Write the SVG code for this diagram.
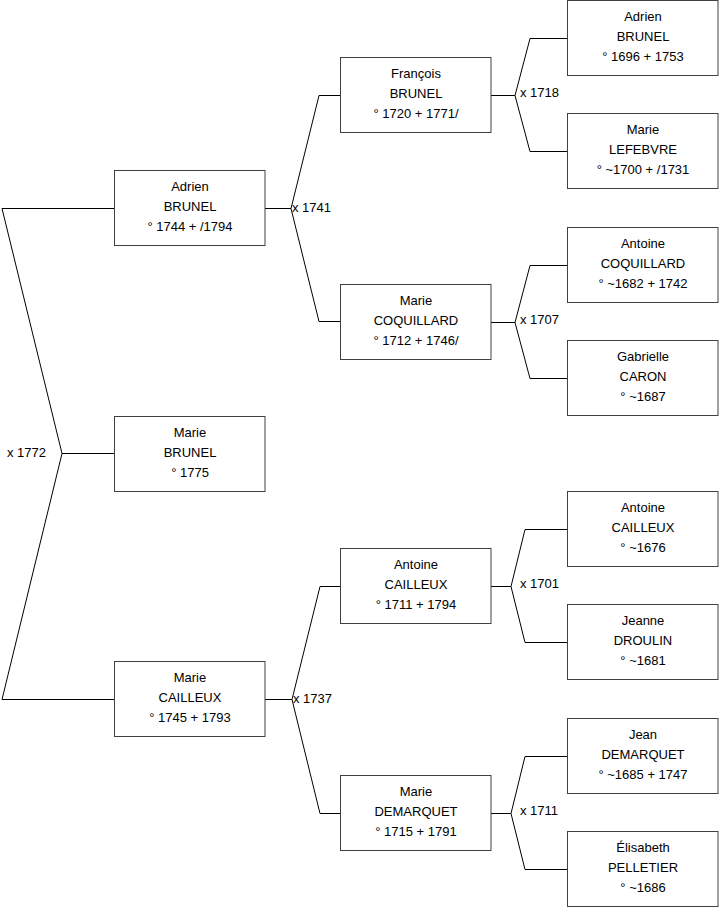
<svg xmlns="http://www.w3.org/2000/svg" width="719" height="908" viewBox="0 0 719 908">
<style>
.box{fill:#fff;stroke:#404040;stroke-width:1}
.c{fill:none;stroke:#000;stroke-width:1}
text{font-family:"Liberation Sans",Arial,sans-serif;font-size:13px;fill:#000}
.n text{text-anchor:middle}
</style>
<rect width="719" height="908" fill="#fff"/>
<g id="connectors">
<path class="c" d="M2,208.5H114.5M2,208.5L62,453.5L2,699.5M62,453.5H114.5M2,699.5H114.5"/>
<path class="c" d="M265,208.5H291M319,95.5L291,208.5L319,321.5M319,95.5H340.5M319,321.5H340.5"/>
<path class="c" d="M265,699.5H292M320,586.5L292,699.5L320,813.5M320,586.5H340.5M320,813.5H340.5"/>
<path class="c" d="M491,95.5H515M530,38.5L515,95.5L530,151.5M530,38.5H567.5M530,151.5H567.5"/>
<path class="c" d="M491,322.5H515M530,265.5L515,322.5L530,378.5M530,265.5H567.5M530,378.5H567.5"/>
<path class="c" d="M491,586.5H511M525,529.5L511,586.5L525,642.5M525,529.5H567.5M525,642.5H567.5"/>
<path class="c" d="M491,813.5H511M525,756.5L511,813.5L525,869.5M525,756.5H567.5M525,869.5H567.5"/>
<text x="7" y="457">x 1772</text>
<text x="292" y="212">x 1741</text>
<text x="293" y="703">x 1737</text>
<text x="520" y="97">x 1718</text>
<text x="520" y="324">x 1707</text>
<text x="520" y="588">x 1701</text>
<text x="520" y="815">x 1711</text>
</g>
<g id="n1" class="n"><rect class="box" x="114.5" y="170.5" width="150.5" height="75"/><text x="190" y="191">Adrien</text><text x="190" y="211">BRUNEL</text><text x="190" y="231">° 1744 + /1794</text></g>
<g id="n2" class="n"><rect class="box" x="114.5" y="416.5" width="150.5" height="75"/><text x="190" y="437">Marie</text><text x="190" y="457">BRUNEL</text><text x="190" y="477">° 1775</text></g>
<g id="n3" class="n"><rect class="box" x="114.5" y="661.5" width="150.5" height="75"/><text x="190" y="682">Marie</text><text x="190" y="702">CAILLEUX</text><text x="190" y="722">° 1745 + 1793</text></g>
<g id="n4" class="n"><rect class="box" x="340.5" y="57.5" width="150.5" height="75"/><text x="416" y="78">François</text><text x="416" y="98">BRUNEL</text><text x="416" y="118">° 1720 + 1771/</text></g>
<g id="n5" class="n"><rect class="box" x="340.5" y="284.5" width="150.5" height="75"/><text x="416" y="305">Marie</text><text x="416" y="325">COQUILLARD</text><text x="416" y="345">° 1712 + 1746/</text></g>
<g id="n6" class="n"><rect class="box" x="340.5" y="548.5" width="150.5" height="75"/><text x="416" y="569">Antoine</text><text x="416" y="589">CAILLEUX</text><text x="416" y="609">° 1711 + 1794</text></g>
<g id="n7" class="n"><rect class="box" x="340.5" y="775.5" width="150.5" height="75"/><text x="416" y="796">Marie</text><text x="416" y="816">DEMARQUET</text><text x="416" y="836">° 1715 + 1791</text></g>
<g id="n8" class="n"><rect class="box" x="567.5" y="0.5" width="150.5" height="75"/><text x="643" y="21">Adrien</text><text x="643" y="41">BRUNEL</text><text x="643" y="61">° 1696 + 1753</text></g>
<g id="n9" class="n"><rect class="box" x="567.5" y="113.5" width="150.5" height="75"/><text x="643" y="134">Marie</text><text x="643" y="154">LEFEBVRE</text><text x="643" y="174">° ~1700 + /1731</text></g>
<g id="n10" class="n"><rect class="box" x="567.5" y="227.5" width="150.5" height="75"/><text x="643" y="248">Antoine</text><text x="643" y="268">COQUILLARD</text><text x="643" y="288">° ~1682 + 1742</text></g>
<g id="n11" class="n"><rect class="box" x="567.5" y="340.5" width="150.5" height="75"/><text x="643" y="361">Gabrielle</text><text x="643" y="381">CARON</text><text x="643" y="401">° ~1687</text></g>
<g id="n12" class="n"><rect class="box" x="567.5" y="491.5" width="150.5" height="75"/><text x="643" y="512">Antoine</text><text x="643" y="532">CAILLEUX</text><text x="643" y="552">° ~1676</text></g>
<g id="n13" class="n"><rect class="box" x="567.5" y="604.5" width="150.5" height="75"/><text x="643" y="625">Jeanne</text><text x="643" y="645">DROULIN</text><text x="643" y="665">° ~1681</text></g>
<g id="n14" class="n"><rect class="box" x="567.5" y="718.5" width="150.5" height="75"/><text x="643" y="739">Jean</text><text x="643" y="759">DEMARQUET</text><text x="643" y="779">° ~1685 + 1747</text></g>
<g id="n15" class="n"><rect class="box" x="567.5" y="831.5" width="150.5" height="75"/><text x="643" y="852">Élisabeth</text><text x="643" y="872">PELLETIER</text><text x="643" y="892">° ~1686</text></g>
</svg>
